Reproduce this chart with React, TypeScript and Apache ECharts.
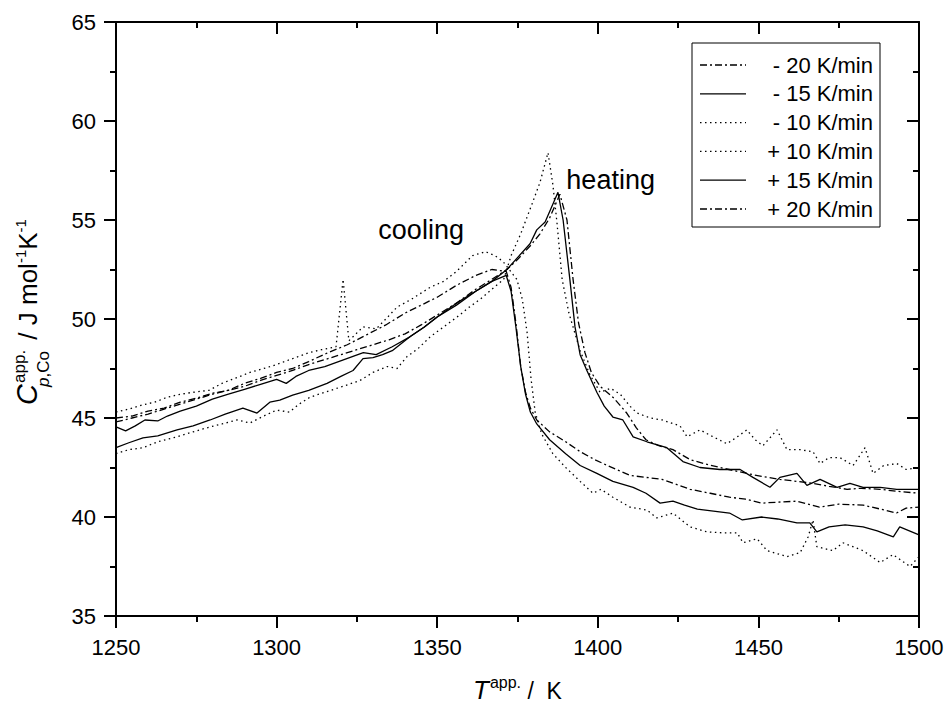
import React, { useEffect, useRef } from "react";
import * as echarts from "echarts";

const FONT = '"Liberation Sans", Arial, Helvetica, sans-serif';
const TICK_COLOR = "#000";

const xMin = 1250;
const xMax = 1500;
const xStep = 50;
const yMin = 35;
const yMax = 65;
const yStep = 5;

const legendLabels = ["- 20 K/min", "- 15 K/min", "- 10 K/min", "+ 10 K/min", "+ 15 K/min", "+ 20 K/min"];
const annotations = [
  { text: "cooling", T: 1345, C: 54.5 },
  { text: "heating", T: 1404, C: 57.0 },
];

const cool20: [number, number][] = [
  [1250, 45.0], [1255, 45.1], [1260, 45.35], [1265, 45.5], [1270, 45.8], [1275, 46.0], [1280, 46.25], [1285, 46.4],
  [1290, 46.75], [1295, 47.0], [1300, 47.3], [1305, 47.5], [1310, 47.85], [1316, 48.3], [1322, 48.7], [1328, 49.2],
  [1334, 49.7], [1340, 50.3], [1345, 50.7], [1350, 51.1], [1356, 51.7], [1362, 52.2], [1367, 52.5], [1371.5, 52.4],
  [1373, 51.6], [1374.5, 49.8], [1376, 47.6], [1377.5, 46.3], [1379, 45.5], [1381, 44.9], [1385, 44.3], [1390, 43.8],
  [1394.5, 43.3], [1399, 42.9], [1403, 42.6], [1410, 42.1], [1415, 42.0], [1420, 41.9], [1428.7, 41.4], [1435, 41.2],
  [1441, 41.0], [1446, 40.9], [1451, 40.7], [1456, 40.75], [1462, 40.8], [1469, 40.5], [1475, 40.65], [1482.6, 40.6],
  [1488, 40.4], [1493, 40.2], [1496, 40.45], [1500, 40.5],
];

const cool15: [number, number][] = [
  [1250, 44.55], [1253, 44.35], [1256, 44.6], [1259, 44.9], [1263, 44.85], [1266, 45.1], [1270, 45.35], [1275, 45.6],
  [1280, 45.95], [1285, 46.2], [1290, 46.45], [1295, 46.7], [1300, 46.95], [1303, 46.75], [1306, 47.1], [1310, 47.4],
  [1315, 47.6], [1321, 47.95], [1327, 48.3], [1331, 48.2], [1336, 48.6], [1341.5, 49.1], [1346, 49.6], [1350, 50.1],
  [1356, 50.8], [1362, 51.4], [1367, 51.9], [1371.5, 52.2], [1373, 51.4], [1374.5, 49.6], [1376, 47.6], [1377.5, 46.2],
  [1379, 45.3], [1381, 44.7], [1385, 43.9], [1390, 43.2], [1394.5, 42.6], [1399.7, 42.2], [1404.7, 41.8], [1411, 41.5],
  [1415, 41.2], [1419.4, 40.7], [1423.4, 40.8], [1427, 40.6], [1431, 40.4], [1436, 40.3], [1441, 40.2], [1445, 39.85],
  [1451, 40.0], [1456, 39.9], [1462, 39.7], [1466, 39.7], [1468.2, 39.25], [1472, 39.5], [1477, 39.6], [1482.6, 39.5],
  [1487, 39.3], [1492, 39.0], [1494, 39.5], [1497, 39.3], [1500, 39.1],
];

const cool10: [number, number][] = [
  [1250, 45.3], [1254, 45.45], [1258, 45.65], [1262, 45.8], [1266, 46.05], [1270, 46.2], [1274, 46.3], [1279, 46.4],
  [1283, 46.75], [1287, 47.0], [1291.7, 47.3], [1296, 47.5], [1300, 47.7], [1305, 48.0], [1310, 48.3], [1314, 48.45],
  [1318.5, 48.6], [1320.7, 52.0], [1322.5, 48.9], [1326.9, 49.6], [1331, 49.5], [1334, 50.0], [1337.5, 50.6], [1342, 51.0],
  [1347.8, 51.6], [1352, 51.9], [1356, 52.4], [1361, 53.2], [1365, 53.4], [1368, 53.2], [1370.5, 52.9], [1374.8, 52.0],
  [1376.5, 51.0], [1378, 49.3], [1379.2, 47.0], [1380.5, 45.3], [1382.5, 44.2], [1386, 43.2], [1390, 42.5], [1394.5, 41.8],
  [1398.5, 41.2], [1401, 41.4], [1404.7, 41.0], [1410, 40.5], [1415.3, 40.35], [1418.4, 39.95], [1423.4, 40.2], [1428.7, 39.5],
  [1434, 39.25], [1439, 39.2], [1443.4, 39.2], [1445.2, 38.7], [1449.6, 38.9], [1452.7, 38.3], [1458.9, 38.0], [1463, 38.2],
  [1465.5, 39.0], [1467, 39.85], [1468.2, 38.5], [1473.2, 38.3], [1476.3, 38.7], [1482.6, 38.3], [1487.9, 37.7], [1491.9, 38.1],
  [1497.2, 37.5], [1500, 38.0],
];

const heat10: [number, number][] = [
  [1250, 43.2], [1254, 43.4], [1258.4, 43.5], [1263, 43.8], [1269, 44.05], [1274, 44.3], [1279.3, 44.55], [1283, 44.7],
  [1287.7, 44.9], [1291.7, 44.75], [1296, 45.1], [1300, 45.4], [1304, 45.3], [1307, 45.7], [1310.4, 46.05], [1315, 46.3],
  [1320.7, 46.6], [1326, 46.9], [1330, 47.3], [1334.4, 47.6], [1337.5, 47.5], [1340.6, 48.1], [1344, 48.5], [1347.8, 49.1],
  [1352, 49.6], [1356.2, 50.1], [1360, 50.6], [1363.4, 51.0], [1367, 51.5], [1370.7, 52.0], [1373, 53.2], [1376, 54.3],
  [1379.5, 55.8], [1382, 56.9], [1384.5, 58.4], [1386, 56.8], [1387.3, 54.85], [1388.9, 52.0], [1391, 50.3], [1394.5, 48.4],
  [1397.5, 47.2], [1400.7, 46.3], [1404, 46.5], [1407, 46.2], [1410, 45.6], [1412.2, 45.25], [1416.3, 45.0], [1420, 44.9],
  [1425.6, 44.6], [1427.8, 44.05], [1431.8, 44.4], [1435.9, 44.05], [1440.2, 43.7], [1443, 44.0], [1446.4, 44.4], [1449, 43.9],
  [1451.4, 43.6], [1455.8, 44.4], [1458.9, 43.4], [1463, 43.4], [1467, 43.3], [1469.2, 42.7], [1472, 43.0], [1475.4, 43.0],
  [1479.5, 42.6], [1483.2, 43.5], [1485.7, 42.2], [1489, 42.6], [1493.1, 42.7], [1496, 42.4], [1500, 42.5],
];

const heat15: [number, number][] = [
  [1250, 43.5], [1254, 43.75], [1258.4, 44.0], [1263, 44.1], [1269, 44.4], [1274, 44.6], [1279.3, 44.9], [1284, 45.2],
  [1289.5, 45.5], [1293.9, 45.25], [1297.9, 45.8], [1301, 45.9], [1305, 46.15], [1310, 46.4], [1315.7, 46.75], [1320, 47.1],
  [1323.8, 47.4], [1326.9, 48.0], [1330, 48.05], [1333, 48.2], [1336, 48.4], [1341.5, 49.1], [1346, 49.6], [1350, 50.1],
  [1356, 50.7], [1362, 51.4], [1367, 51.9], [1371.7, 52.5], [1375, 53.1], [1378.9, 53.8], [1381, 54.5], [1383.6, 54.9],
  [1386, 55.8], [1387.6, 56.4], [1389.2, 55.0], [1391.3, 52.0], [1392.9, 49.6], [1394.5, 48.2], [1396.6, 47.4], [1399.7, 46.3],
  [1402, 45.6], [1404.7, 45.05], [1407.8, 44.9], [1411, 44.05], [1415.3, 43.8], [1421.5, 43.5], [1426.5, 42.8], [1431.8, 42.5],
  [1438, 42.4], [1444.3, 42.4], [1448.3, 42.0], [1453.6, 41.5], [1456.7, 42.0], [1462, 42.2], [1465.1, 41.6], [1469.2, 41.9],
  [1474.5, 41.5], [1478.5, 41.7], [1482.6, 41.5], [1487.9, 41.5], [1493.1, 41.4], [1500, 41.4],
];

const heat20: [number, number][] = [
  [1250, 44.8], [1255, 45.0], [1260, 45.2], [1265, 45.45], [1270, 45.7], [1275, 45.95], [1280, 46.2], [1285, 46.4],
  [1290, 46.6], [1295, 46.9], [1300, 47.15], [1305, 47.4], [1310, 47.7], [1315, 47.95], [1320, 48.2], [1325, 48.45],
  [1330, 48.7], [1335, 48.95], [1340, 49.25], [1345, 49.7], [1350, 50.2], [1356, 50.8], [1362, 51.5], [1367, 52.0],
  [1371.7, 52.5], [1375, 53.0], [1379, 53.7], [1382, 54.3], [1385, 55.1], [1388.2, 56.3], [1390.4, 55.0], [1392.3, 52.0],
  [1394, 49.8], [1396, 48.3], [1398, 47.3], [1400.7, 46.6], [1405, 46.0], [1409, 45.25], [1412, 44.5], [1415, 43.9],
  [1419, 43.6], [1423.4, 43.4], [1428.7, 42.9], [1433, 42.7], [1438, 42.5], [1446.4, 42.2], [1451, 42.05], [1456.7, 41.9],
  [1462, 41.8], [1467, 41.7], [1472, 41.55], [1477.6, 41.4], [1482, 41.45], [1487.9, 41.4], [1493, 41.3], [1500, 41.2],
];

const DASH_DOT = [7, 3, 2, 3];
const DOTTED = [1.5, 3.5];
const SOLID: number[] | null = null;

const seriesDefs = [
  { name: legendLabels[0], data: cool20, dash: DASH_DOT },
  { name: legendLabels[1], data: cool15, dash: SOLID },
  { name: legendLabels[2], data: cool10, dash: DOTTED },
  { name: legendLabels[3], data: heat10, dash: DOTTED },
  { name: legendLabels[4], data: heat15, dash: SOLID },
  { name: legendLabels[5], data: heat20, dash: DASH_DOT },
];

const GRID = { left: 116, top: 22, right: 29, bottom: 90 };
const W = 948;
const H = 706;

function fontStr(size: number, italic?: boolean) {
  return `${italic ? "italic " : ""}${size}px ${FONT}`;
}

let measureCtx: CanvasRenderingContext2D | null = null;
function textWidth(text: string, size: number, italic?: boolean) {
  if (!measureCtx) measureCtx = document.createElement("canvas").getContext("2d");
  if (!measureCtx) return text.length * size * 0.55;
  measureCtx.font = fontStr(size, italic);
  return measureCtx.measureText(text).width;
}

type Frag = { t: string; size: number; italic?: boolean; dy: number; x: number };

function fragText(f: Frag, offset: number) {
  return {
    type: "text",
    x: f.x + offset,
    y: f.dy - 0.3465 * f.size,
    silent: true,
    style: {
      text: f.t,
      font: fontStr(f.size, f.italic),
      fill: "#000",
      align: "left",
      textAlign: "left",
      verticalAlign: "middle",
      textVerticalAlign: "middle",
    },
  };
}

function buildYTitle() {
  const frags: Frag[] = [];
  let x = 0;
  frags.push({ t: "C", size: 29, italic: true, dy: 0, x });
  x += textWidth("C", 29, true);
  const supW = textWidth("app.", 17);
  frags.push({ t: "app.", size: 17, dy: -12, x: x + 1 });
  const pW = textWidth("p", 17, true);
  frags.push({ t: "p", size: 17, italic: true, dy: 12, x: x - 3 });
  frags.push({ t: ",Co", size: 17, dy: 12, x: x - 3 + pW });
  const subW = pW + textWidth(",Co", 17) - 3;
  x += Math.max(supW + 1, subW) + 3;
  frags.push({ t: " / J mol", size: 26, dy: 0, x });
  x += textWidth(" / J mol", 26);
  frags.push({ t: "-1", size: 15, dy: -11, x });
  x += textWidth("-1", 15);
  frags.push({ t: "K", size: 26, dy: 0, x });
  x += textWidth("K", 26);
  frags.push({ t: "-1", size: 15, dy: -11, x });
  x += textWidth("-1", 15);
  const off = -x / 2;
  return frags.map((f) => fragText(f, off));
}

function buildXTitle() {
  const frags: Frag[] = [];
  let x = 0;
  frags.push({ t: "T", size: 26, italic: true, dy: 0, x });
  x += textWidth("T", 26, true) + 1;
  frags.push({ t: "app.", size: 16, dy: -11, x });
  x += textWidth("app.", 16);
  frags.push({ t: " /  K", size: 23, dy: 0, x });
  x += textWidth(" /  K", 23);
  const off = -x / 2;
  return frags.map((f) => fragText(f, off));
}

function buildLegend() {
  const box = { x: 692, y: 43, w: 188, h: 184 };
  const rowY0 = 65;
  const rowGap = 28.8;
  const children: any[] = [
    {
      type: "rect",
      shape: { x: box.x, y: box.y, width: box.w, height: box.h },
      style: { fill: "#fff", stroke: "#000", lineWidth: 1 },
      silent: true,
    },
  ];
  seriesDefs.forEach((s, i) => {
    const y = rowY0 + i * rowGap;
    children.push({
      type: "line",
      shape: { x1: 700, y1: y, x2: 746, y2: y },
      style: { stroke: "#000", lineWidth: 1.3, lineDash: s.dash || undefined },
      silent: true,
    });
    children.push({
      type: "text",
      x: 873,
      y,
      silent: true,
      style: {
        text: s.name,
        font: fontStr(22),
        fill: "#000",
        align: "right",
        textAlign: "right",
        verticalAlign: "middle",
        textVerticalAlign: "middle",
      },
    });
  });
  return children;
}

function makeAxis(min: number, max: number, step: number, position: string, labels: any, inside: boolean) {
  return {
    type: "value",
    min,
    max,
    interval: step,
    position,
    splitLine: { show: false },
    axisLine: { show: true, onZero: false, lineStyle: { color: "#000", width: 2 } },
    axisTick: { show: true, inside, length: 12, lineStyle: { color: TICK_COLOR, width: 2 } },
    minorTick: { show: true, splitNumber: 2, length: 6, lineStyle: { color: TICK_COLOR, width: 2 } },
    axisLabel: labels,
  };
}

export default function App() {
  const ref = useRef<HTMLDivElement>(null);
  useEffect(() => {
    if (!ref.current) return;
    const chart = echarts.init(ref.current, undefined, { renderer: "svg" });
    const labelStyle = {
      show: true,
      color: "#000",
      fontSize: 22,
      fontFamily: FONT,
      formatter: (v: number) => String(v),
    };
    const plotCx = GRID.left + (W - GRID.left - GRID.right) / 2;
    const baseGraphic: any[] = [
      { type: "group", x: 37, y: 312, rotation: Math.PI / 2, children: buildYTitle() },
      { type: "group", x: plotCx, y: 699, children: buildXTitle() },
      { type: "group", children: buildLegend(), z: 10 },
    ];
    const option: any = {
      animation: false,
      backgroundColor: "#fff",
      grid: { ...GRID, containLabel: false },
      xAxis: [
        makeAxis(xMin, xMax, xStep, "bottom", { ...labelStyle, margin: 20 }, false),
        makeAxis(xMin, xMax, xStep, "top", { show: false }, true),
      ],
      yAxis: [
        makeAxis(yMin, yMax, yStep, "left", { ...labelStyle, margin: 20 }, false),
        makeAxis(yMin, yMax, yStep, "right", { show: false }, true),
      ],
      series: seriesDefs.map((s) => ({
        name: s.name,
        type: "line",
        xAxisIndex: 0,
        yAxisIndex: 0,
        data: s.data,
        showSymbol: false,
        symbol: "none",
        smooth: false,
        silent: true,
        lineStyle: { color: "#000", width: 1.3, type: s.dash || "solid" },
        z: 2,
      })),
      graphic: baseGraphic,
    };
    chart.setOption(option);
    const extra = annotations.map((a) => {
      const p = chart.convertToPixel({ gridIndex: 0 } as any, [a.T, a.C]) as number[];
      return {
        type: "text",
        x: p[0],
        y: p[1],
        silent: true,
        style: {
          text: a.text,
          font: fontStr(27),
          fill: "#000",
          align: "center",
          textAlign: "center",
          verticalAlign: "middle",
          textVerticalAlign: "middle",
        },
      };
    });
    chart.setOption({ graphic: [...baseGraphic, ...extra] });
    return () => chart.dispose();
  }, []);
  return <div ref={ref} style={{ position: "fixed", left: 0, top: 0, width: W, height: H }} />;
}
